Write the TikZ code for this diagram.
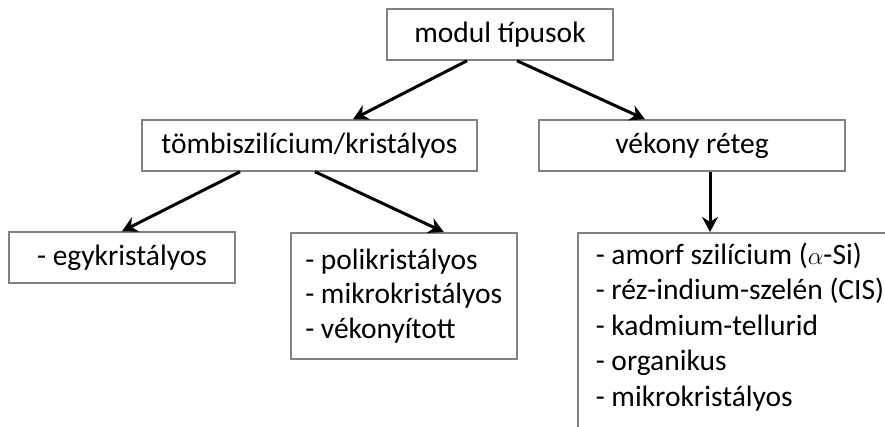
\documentclass[tikz,border=0pt]{standalone}
\usepackage{fontspec}
\setmainfont{Carlito}
\usepackage{tikz}
\usetikzlibrary{arrows.meta}
\definecolor{boxgray}{RGB}{128,128,128}

\begin{document}
\begin{tikzpicture}[x=1pt, y=-1pt, >={Stealth[length=15pt,width=16pt]},
  box/.style={draw=boxgray, line width=1.5pt, inner sep=0pt, font=\fontsize{29.5}{35.5}\selectfont},
  arr/.style={->, line width=3pt}]
  \clip (0,0) rectangle (885,426);
  % top level
  \node[box, minimum width=226pt, minimum height=51pt] (modul) at (500,34.5) {modul típusok};
  % second level
  \node[box, minimum width=335pt, minimum height=51pt] (tomb) at (309.5,145.5) {tömbiszilícium/kristályos};
  \node[box, minimum width=306pt, minimum height=51pt] (vekony) at (692,145.5) {vékony réteg};
  % third level
  \node[box, minimum width=226pt, minimum height=51pt] (egy) at (122,257.5) {- egykristályos};
  \node[box, anchor=north west, minimum width=226pt, minimum height=126pt, align=left,
    font=\fontsize{29.5}{34.5}\selectfont] (poli) at (290,232)
    {- polikristályos\\- mikrokristályos\\- vékonyított};
  \node[box, anchor=north west, inner xsep=18pt, inner ysep=10pt, align=left] (amorf) at (577,232)
    {- amorf szilícium ($\alpha$-Si)\\- réz-indium-szelén (CIS)\\- kadmium-tellurid\\- organikus\\- mikrokristályos\\\mbox{}};
  % arrows
  \draw[arr] ([xshift=-33pt]modul.south) -- ([xshift=43.5pt]tomb.north);
  \draw[arr] ([xshift=17pt]modul.south) -- ([xshift=-47pt]vekony.north);
  \draw[arr] ([xshift=-69.5pt]tomb.south) -- (egy.north);
  \draw[arr] ([xshift=5.5pt]tomb.south) -- ([xshift=40pt]poli.north);
  \draw[arr] ([xshift=18pt]vekony.south) -- ([xshift=133pt]amorf.north west);
\end{tikzpicture}
\end{document}
